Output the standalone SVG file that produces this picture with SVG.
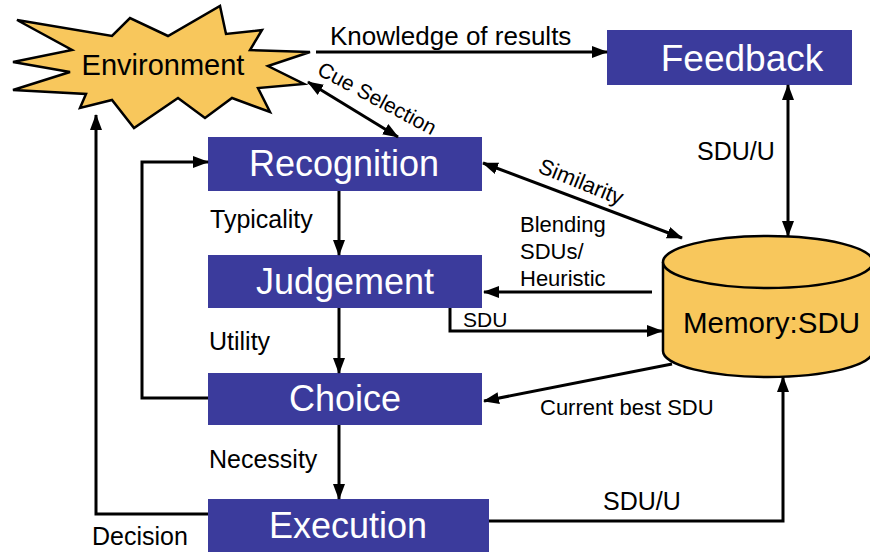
<svg xmlns="http://www.w3.org/2000/svg" width="870" height="556" viewBox="0 0 870 556">
<style>
.box{fill:#3B3B9C}
.bt{fill:#fff;font-family:"Liberation Sans",Arial,sans-serif;font-size:36px;text-anchor:middle}
.lb{fill:#000;font-family:"Liberation Sans",Arial,sans-serif;font-size:25px}
.sm{fill:#000;font-family:"Liberation Sans",Arial,sans-serif;font-size:22px}
.ln{fill:none;stroke:#000;stroke-width:3}
</style>
<defs>
<marker id="ah" viewBox="0 0 16 12" markerWidth="16" markerHeight="12" refX="15" refY="6" orient="auto-start-reverse" markerUnits="userSpaceOnUse">
<path d="M0,0 L16,6 L0,12 z" fill="#000"/>
</marker>
</defs>
<rect width="870" height="556" fill="#fff"/>

<g id="environment">
<polygon points="17,20 112,36 130,18 168,36 220,6 226,34 262,30 250,50 310,52 268,66 304,84 258,88 270,112 232,98 205,118 178,98 134,128 112,100 80,108 86,94 13,90 70,72 13,62 72,50" fill="#F8C75C" stroke="#000" stroke-width="2.5" stroke-linejoin="miter"/>
<text x="163" y="75" style="font-family:'Liberation Sans',Arial,sans-serif;font-size:29px" text-anchor="middle">Environment</text>
</g>

<g id="feedback">
<rect class="box" x="607" y="30" width="245" height="55"/>
<text class="bt" x="742" y="71" style="font-size:37px">Feedback</text>
</g>

<g id="recognition">
<rect class="box" x="208" y="137" width="274" height="54"/>
<text class="bt" x="344" y="176">Recognition</text>
</g>

<g id="judgement">
<rect class="box" x="208" y="255" width="274" height="53"/>
<text class="bt" x="345" y="294">Judgement</text>
</g>

<g id="choice">
<rect class="box" x="208" y="373" width="274" height="52"/>
<text class="bt" x="345" y="411">Choice</text>
</g>

<g id="execution">
<rect class="box" x="208" y="499" width="281" height="53"/>
<text class="bt" x="348" y="538">Execution</text>
</g>

<g id="memory">
<path d="M663,262 L663,351 A105,26 0 0 0 873,351 L873,262" fill="#F8C75C" stroke="#000" stroke-width="2.5"/>
<ellipse cx="768" cy="262" rx="105" ry="26" fill="#F8C75C" stroke="#000" stroke-width="2.5"/>
<text x="683" y="333" style="font-family:'Liberation Sans',Arial,sans-serif;font-size:29.5px">Memory:SDU</text>
</g>

<g id="connectors">
<line class="ln" x1="316" y1="52" x2="607" y2="52" marker-end="url(#ah)"/>
<line class="ln" x1="308" y1="82" x2="398" y2="137" marker-start="url(#ah)" marker-end="url(#ah)"/>
<line class="ln" x1="788" y1="85" x2="788" y2="236" marker-start="url(#ah)" marker-end="url(#ah)"/>
<line class="ln" x1="483" y1="163" x2="682" y2="238" marker-start="url(#ah)" marker-end="url(#ah)"/>
<line class="ln" x1="652" y1="292" x2="484" y2="292" marker-end="url(#ah)"/>
<polyline class="ln" points="450,308 450,331 662,331" marker-end="url(#ah)"/>
<line class="ln" x1="672" y1="364" x2="484" y2="401" marker-end="url(#ah)"/>
<line class="ln" x1="339" y1="191" x2="339" y2="255" marker-end="url(#ah)"/>
<line class="ln" x1="339" y1="308" x2="339" y2="373" marker-end="url(#ah)"/>
<line class="ln" x1="339" y1="425" x2="339" y2="499" marker-end="url(#ah)"/>
<polyline class="ln" points="208,398 142,398 142,162 208,162" marker-end="url(#ah)"/>
<polyline class="ln" points="208,514 96,514 96,115" marker-end="url(#ah)"/>
<polyline class="ln" points="489,521 783,521 783,377" marker-end="url(#ah)"/>

<text class="lb" x="330" y="45" style="font-size:26px">Knowledge of results</text>
<text class="sm" x="316" y="74" transform="rotate(28 316 74)" style="font-size:21px">Cue Selection</text>
<text class="sm" x="537" y="172" transform="rotate(22 537 172)">Similarity</text>
<text class="lb" x="697" y="160">SDU/U</text>
<text class="sm" x="520" y="232">Blending</text>
<text class="sm" x="520" y="259">SDUs/</text>
<text class="sm" x="520" y="286">Heuristic</text>
<text class="sm" x="463" y="327" style="font-size:21px">SDU</text>
<text class="sm" x="540" y="415">Current best SDU</text>
<text class="lb" x="210" y="228">Typicality</text>
<text class="lb" x="209" y="350">Utility</text>
<text class="lb" x="209" y="468">Necessity</text>
<text class="lb" x="603" y="510">SDU/U</text>
<text class="lb" x="92" y="545">Decision</text>
</g>
</svg>
